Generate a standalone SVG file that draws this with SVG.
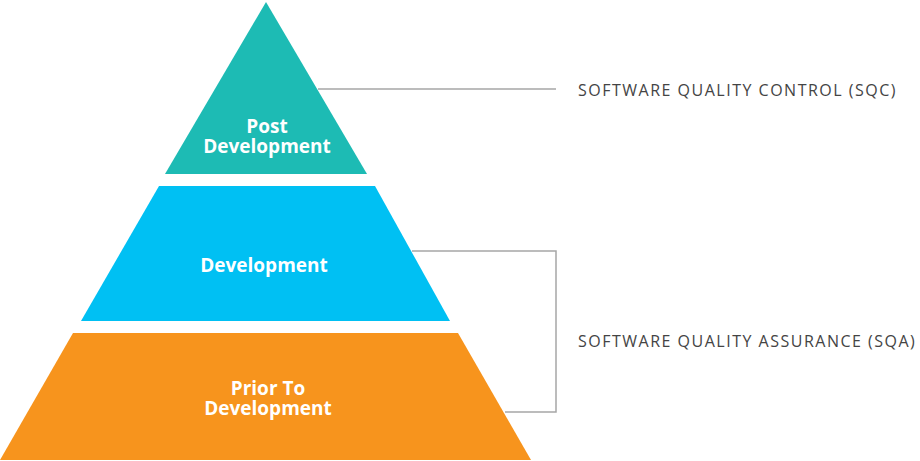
<svg xmlns="http://www.w3.org/2000/svg" width="920" height="461" viewBox="0 0 920 461">
<style>
.lbl{font-family:"Open Sans","Liberation Sans",sans-serif;font-weight:700;font-size:19px;fill:#fff;text-anchor:middle}
.side{font-family:"Open Sans","Liberation Sans",sans-serif;font-size:16px;fill:#444;letter-spacing:1.5px}
.conn{fill:none;stroke:#a6a6a6;stroke-width:1.5}
</style>
<rect width="920" height="461" fill="#fff"/>
<g id="connectors">
<path class="conn" d="M318 89H556"/>
<path class="conn" d="M412 251H556V412H505"/>
</g>
<g id="post-development">
<polygon points="266,2 367,174 165,174" fill="#1dbbb4"/>
<text class="lbl" x="267" y="132.5">Post</text>
<text class="lbl" x="267" y="153">Development</text>
</g>
<g id="development">
<polygon points="159,186 375,186 450,321 81,321" fill="#00c0f3"/>
<text class="lbl" x="264" y="272">Development</text>
</g>
<g id="prior-to-development">
<polygon points="73,333 458,333 531,460 0,460" fill="#f7941d"/>
<text class="lbl" x="268" y="394.5">Prior To</text>
<text class="lbl" x="268" y="415">Development</text>
</g>
<g id="sqc">
<text class="side" x="578" y="96">SOFTWARE QUALITY CONTROL (SQC)</text>
</g>
<g id="sqa">
<text class="side" x="578" y="347">SOFTWARE QUALITY ASSURANCE (SQA)</text>
</g>
</svg>
